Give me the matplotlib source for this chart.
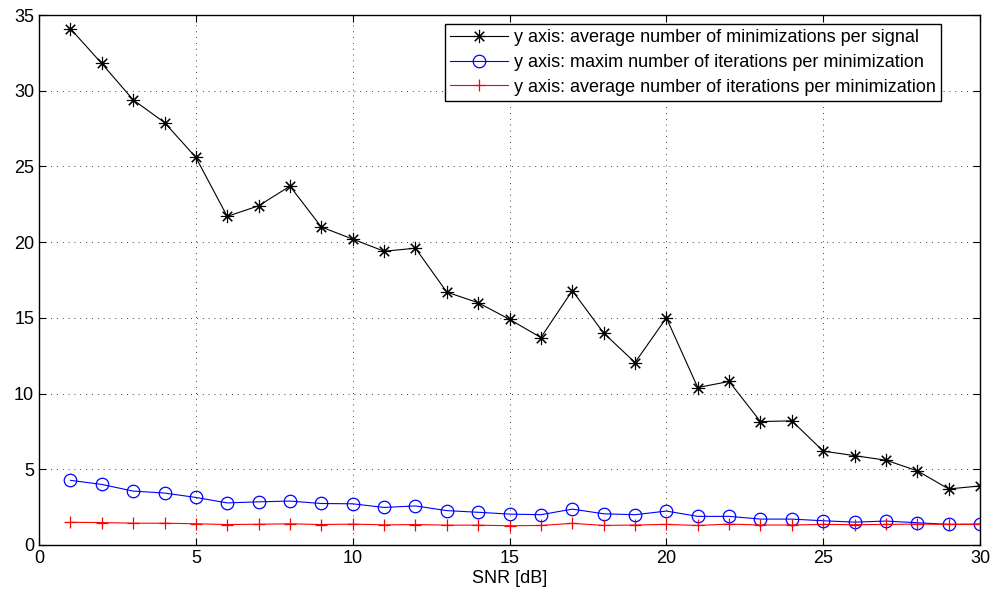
import numpy as np
import matplotlib.pyplot as plt

plt.rcParams['font.family'] = ['Liberation Sans', 'DejaVu Sans']

snr = np.arange(1, 31)
min_per_signal = [34.1, 31.8, 29.4, 27.9, 25.6, 21.7, 22.4, 23.7, 21.0, 20.2,
                  19.4, 19.6, 16.7, 16.0, 14.9, 13.7, 16.8, 14.0, 12.05, 15.0,
                  10.4, 10.8, 8.15, 8.2, 6.2, 5.9, 5.6, 4.9, 3.7, 3.9]
max_iter = [4.27, 4.0, 3.56, 3.43, 3.14, 2.78, 2.85, 2.9, 2.74, 2.72,
            2.48, 2.58, 2.27, 2.16, 2.04, 2.0, 2.37, 2.06, 2.0, 2.24,
            1.89, 1.89, 1.71, 1.71, 1.6, 1.51, 1.58, 1.47, 1.36, 1.38]
avg_iter = [1.5, 1.48, 1.44, 1.44, 1.4, 1.35, 1.37, 1.4, 1.35, 1.38,
            1.33, 1.35, 1.31, 1.31, 1.27, 1.29, 1.43, 1.29, 1.32, 1.36,
            1.29, 1.38, 1.32, 1.32, 1.36, 1.34, 1.36, 1.38, 1.36, 1.36]

labels = ['y axis: average number of minimizations per signal',
          'y axis: maxim number of iterations per minimization',
          'y axis: average number of iterations per minimization']

fig = plt.figure(figsize=(10.06, 6.01), dpi=100)
ax = fig.add_axes([0.0388, 0.0932, 0.9354, 0.8818])

# matlab style asterisk: 8 spokes
ax.plot(snr, min_per_signal, 'k-', marker=(8, 2, 0), ms=9.5, mew=0.8, lw=0.8, label=labels[0])
ax.plot(snr, max_iter, 'b-', marker='o', ms=9, mfc='none', mew=0.9, lw=0.8, label=labels[1])
ax.plot(snr, avg_iter, 'r-', marker='+', ms=9, mew=0.9, lw=0.8, label=labels[2])

ax.set_xlim(0, 30)
ax.set_ylim(0, 35)
ax.set_xticks(np.arange(0, 31, 5))
ax.set_yticks(np.arange(0, 36, 5))
ax.grid(True, color='black', linestyle=(0, (1, 6)), linewidth=0.6)
ax.tick_params(direction='in', top=True, right=True, labelsize=13, length=5)
for s in ax.spines.values():
    s.set_linewidth(1.0)
ax.set_xlabel('SNR [dB]', fontsize=13, labelpad=2)

leg = ax.legend(loc='upper right', fontsize=13, fancybox=False, framealpha=1,
                edgecolor='black', borderpad=0.3, labelspacing=0.42,
                handlelength=3.2, handletextpad=0.35, borderaxespad=0.0,
                bbox_to_anchor=(0.959, 0.983))
leg.get_frame().set_linewidth(1.0)

fig.savefig('out.png', dpi=100)
